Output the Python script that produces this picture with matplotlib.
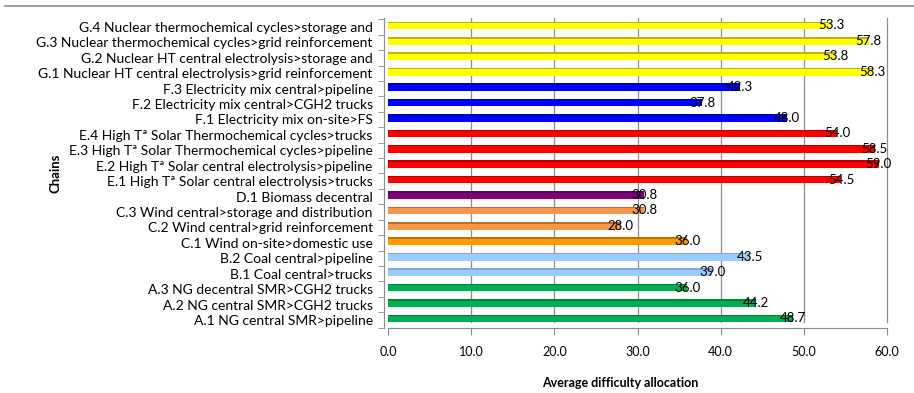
import matplotlib
matplotlib.use("Agg")
import matplotlib.pyplot as plt
from matplotlib.lines import Line2D

# chains listed bottom to top (A.1 first)
chains = [
    "A.1 NG central SMR>pipeline",
    "A.2 NG central SMR>CGH2 trucks",
    "A.3 NG decentral SMR>CGH2 trucks",
    "B.1 Coal central>trucks",
    "B.2 Coal central>pipeline",
    "C.1 Wind on-site>domestic use",
    "C.2 Wind central>grid reinforcement",
    "C.3 Wind central>storage and distribution",
    "D.1 Biomass decentral",
    "E.1 High Tª Solar central electrolysis>trucks",
    "E.2 High Tª Solar central electrolysis>pipeline",
    "E.3 High Tª Solar Thermochemical cycles>pipeline",
    "E.4 High Tª Solar Thermochemical cycles>trucks",
    "F.1 Electricity mix on-site>FS",
    "F.2 Electricity mix central>CGH2 trucks",
    "F.3 Electricity mix central>pipeline",
    "G.1 Nuclear HT central electrolysis>grid reinforcement",
    "G.2 Nuclear HT central electrolysis>storage and",
    "G.3 Nuclear thermochemical cycles>grid reinforcement",
    "G.4 Nuclear thermochemical cycles>storage and",
]
difficulty = [48.7, 44.2, 36.0, 39.0, 43.5, 36.0, 28.0, 30.8, 30.8,
              54.5, 59.0, 58.5, 54.0, 48.0, 37.8, 42.3, 58.3, 53.8, 57.8, 53.3]

# face colour and darker top-face colour per family
family_colors = {
    "A": ("#00B050", "#00843C"),
    "B": ("#99CCFF", "#7FA9D4"),
    "C": ("#F79646", "#B86E32"),
    "C1": ("#FF9900", "#C07300"),
    "D": ("#800080", "#5A005A"),
    "E": ("#FF0000", "#B00000"),
    "F": ("#0000FF", "#0000B0"),
    "G": ("#FFFF00", "#B8B800"),
}

plt.rcParams['font.family'] = ['Lato', 'DejaVu Sans']

fig = plt.figure(figsize=(9.14, 3.93), dpi=100)
W, H = 914, 393
ax = fig.add_axes([388 / W, 1 - 328 / H, (887 - 388) / W, (328 - 18) / H])

bar_h = 0.5
for i, (name, val) in enumerate(zip(chains, difficulty)):
    key = name[0]
    if name.startswith("C.1"):
        key = "C1"
    face, top = family_colors[key]
    y = i + 0.1
    ax.barh(y, val, height=bar_h, color=face, zorder=3)
    ax.barh(y + bar_h / 2 - 0.05, val, height=0.1, color=top, zorder=3)
    ax.text(val, y, f"{val:.1f}", ha="center", va="center", fontsize=9.5,
            color="black", zorder=4)

ax.set_xlim(0, 60)
ax.set_ylim(-0.52, len(chains) - 0.42)

# back wall grid
for gx in range(10, 61, 10):
    ax.plot([gx, gx], [-0.1, len(chains) - 0.42], color="#8C8C8C", lw=0.9, zorder=1,
            clip_on=False)

ax.set_xticks(range(0, 61, 10))
ax.set_xticklabels([f"{v:.1f}" for v in range(0, 61, 10)], fontsize=9)
ax.set_yticks(range(len(chains)))
ax.set_yticklabels(chains, fontsize=9.1)
ax.set_yticks([i + 0.5 for i in range(-1, len(chains))], minor=True)
ax.tick_params(axis="y", which="major", length=0, pad=8)
ax.tick_params(axis="y", which="minor", length=4, color="#8C8C8C", direction="out")
ax.tick_params(axis="x", length=5, color="#8C8C8C", pad=8)

for side in ("top", "right"):
    ax.spines[side].set_visible(False)
ax.spines["left"].set_color("#8C8C8C")
ax.spines["left"].set_position(("outward", 3))
ax.spines["bottom"].set_color("#8C8C8C")

ax.set_xlabel("Average difficulty allocation", fontsize=9, fontweight="bold")
ax.xaxis.set_label_coords((620 - 388) / (887 - 388), -(377 - 328) / (328 - 18))
ax.set_ylabel("Chains", fontsize=9.5, fontweight="bold")
ax.yaxis.set_label_coords(-(388 - 61) / (887 - 388), 0.5)

fig.add_artist(Line2D([5 / W, 1], [1 - 6 / H, 1 - 6 / H], color="#8C8C8C", lw=1.2))

fig.savefig("out.png", dpi=100)
